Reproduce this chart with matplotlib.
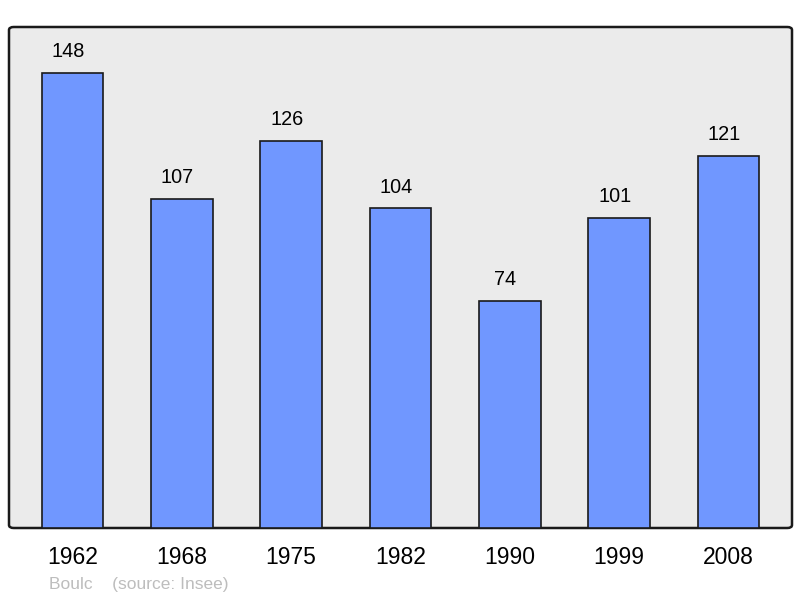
import matplotlib.pyplot as plt
from matplotlib.patches import FancyBboxPatch

years = ["1962", "1968", "1975", "1982", "1990", "1999", "2008"]
population = [148, 107, 126, 104, 74, 101, 121]

plt.rcParams['font.family'] = ['Liberation Sans', 'DejaVu Sans']

fig = plt.figure(figsize=(8, 5.98), dpi=100)
ax = fig.add_axes([9 / 800, 1 - 528 / 598, 783 / 800, 501 / 598])

# background frame with rounded corners
ax.set_facecolor('none')
for s in ax.spines.values():
    s.set_visible(False)
frame = FancyBboxPatch((0, 0), 1, 1, boxstyle="round,pad=0,rounding_size=0.006",
                       transform=ax.transAxes, facecolor='#ebebeb',
                       edgecolor='#1a1a1a', linewidth=1.8, zorder=0, clip_on=False)
ax.add_patch(frame)

x = list(range(len(years)))
ax.bar(x, population, width=0.565, color='#7097ff', edgecolor='#1a1a1a',
       linewidth=1.2, zorder=2)

for xi, v in zip(x, population):
    ax.text(xi - 0.04, v + 3.8, str(v), ha='center', va='bottom', fontsize=14.3)

ax.set_xlim(-0.58, 6.58)
ax.set_ylim(0, 163)
ax.set_yticks([])
ax.set_xticks(x)
ax.set_xticklabels(years, fontsize=16.5)
ax.tick_params(axis='x', length=0, pad=13)

fig.text(49 / 800, 1 - 584 / 598, "Boulc    (source: Insee)", color='#bdbdbd',
         fontsize=12.5, va='center', ha='left')

fig.savefig('out.png', dpi=100)
